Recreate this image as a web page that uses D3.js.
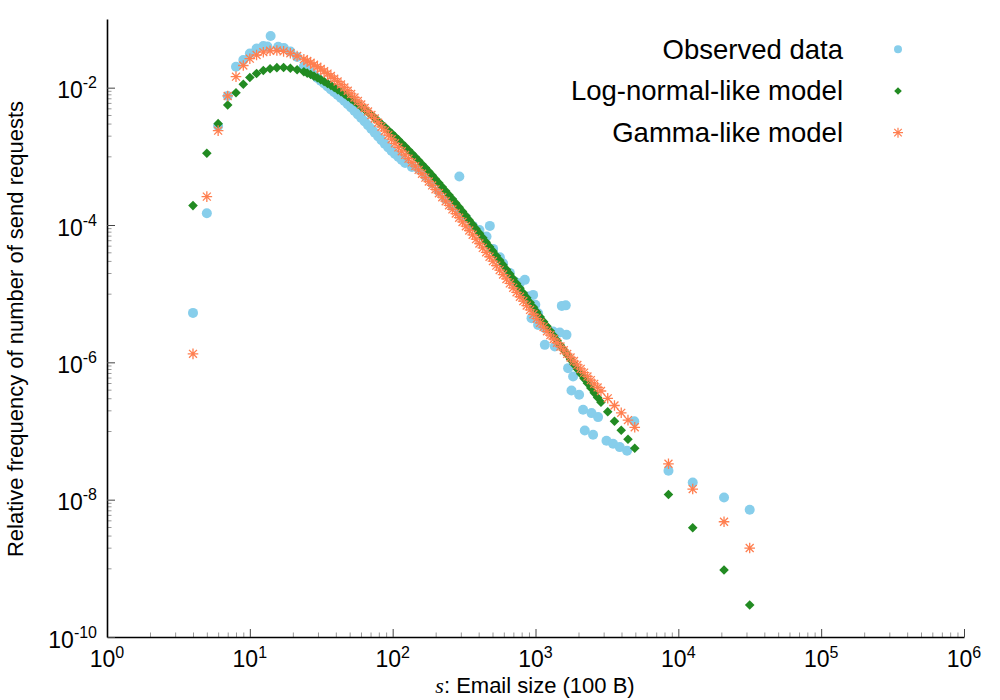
<!DOCTYPE html>
<html>
<head>
<meta charset="utf-8">
<script src="https://cdn.jsdelivr.net/npm/d3@7"></script>
<style>
  body { margin: 0; background: #fff; }
  svg { display: block; font-family: "Liberation Sans", Arial, Helvetica, sans-serif; }
</style>
</head>
<body>
<svg></svg>
<script>
// email size s (in units of 100 B) where the two models are evaluated
var modelSizes = [4, 5, 6, 7, 8, 9,
  10, 11.15, 12.43, 13.86, 15.46, 17.23, 19.22, 21.43,
  23.89, 25.22, 26.64, 28.13, 29.70, 31.36, 33.12, 34.97, 36.93, 38.99,
  41.17, 43.47, 45.91, 48.47, 51.19, 54.05, 57.07, 60.25, 63.64, 67.19,
  70.96, 74.92, 79.12, 83.54, 88.22, 93.14, 98.36, 103.8, 109.7, 115.8,
  122.3, 129.1, 136.4, 144.0, 152.0, 160.5, 169.5, 179.0, 189.0, 199.5,
  210.7, 222.5, 235.0, 248.1, 262.0, 276.6, 292.1, 308.4, 325.7, 343.9,
  363.2, 383.5, 405.0, 427.6, 451.5, 476.7, 503.5, 531.6, 561.4, 592.7,
  625.9, 660.8, 697.9, 736.8, 778.2, 821.6, 867.7, 916.1, 967.5, 1021,
  1079, 1139, 1203, 1270, 1341, 1416, 1495, 1578, 1667, 1760,
  1859, 1963, 2073, 2189, 2311, 2440, 2577, 2721,
  2873, 3204, 3572, 3983, 4441, 4952,
  8530, 12610, 20890, 31600];

var logNormalFreq = [1.916e-4, 1.110e-3, 2.992e-3, 5.60e-3, 8.43e-3, 1.124e-2,
  1.408e-2, 1.609e-2, 1.780e-2, 1.890e-2, 1.955e-2, 1.968e-2, 1.922e-2, 1.828e-2,
  1.704e-2, 1.629e-2, 1.556e-2, 1.473e-2, 1.394e-2, 1.310e-2, 1.231e-2, 1.153e-2, 1.080e-2, 1.007e-2,
  9.38e-3, 8.70e-3, 8.07e-3, 7.445e-3, 6.87e-3, 6.308e-3, 5.79e-3, 5.29e-3, 4.83e-3, 4.391e-3,
  3.99e-3, 3.615e-3, 3.276e-3, 2.957e-3, 2.670e-3, 2.402e-3, 2.162e-3, 1.939e-3, 1.739e-3, 1.554e-3,
  1.389e-3, 1.237e-3, 1.102e-3, 9.78e-4, 8.69e-4, 7.686e-4, 6.80e-4, 5.999e-4, 5.29e-4, 4.650e-4,
  4.09e-4, 3.579e-4, 3.135e-4, 2.737e-4, 2.390e-4, 2.080e-4, 1.809e-4, 1.570e-4, 1.361e-4, 1.176e-4,
  1.017e-4, 8.774e-5, 7.57e-5, 6.523e-5, 5.62e-5, 4.832e-5, 4.16e-5, 3.567e-5, 3.063e-5, 2.626e-5,
  2.251e-5, 1.926e-5, 1.648e-5, 1.407e-5, 1.203e-5, 1.025e-5, 8.75e-6, 7.445e-6, 6.34e-6, 5.388e-6,
  4.58e-6, 3.912e-6, 3.342e-6, 2.850e-6, 2.431e-6, 2.073e-6, 1.768e-6, 1.508e-6, 1.286e-6, 1.096e-6,
  9.35e-7, 7.975e-7, 6.80e-7, 5.800e-7, 4.95e-7, 4.219e-7, 3.597e-7, 3.068e-7,
  2.617e-7, 1.903e-7, 1.384e-7, 1.024e-7, 7.57e-8, 5.60e-8,
  1.19e-8, 3.90e-9, 9.45e-10, 2.92e-10];

var gammaFreq = [1.33e-6, 2.59e-4, 2.366e-3, 7.57e-3, 1.446e-2, 2.104e-2,
  2.643e-2, 2.992e-2, 3.286e-2, 3.444e-2, 3.479e-2, 3.376e-2, 3.167e-2, 2.893e-2,
  2.599e-2, 2.447e-2, 2.304e-2, 2.154e-2, 2.015e-2, 1.872e-2, 1.739e-2, 1.604e-2, 1.480e-2, 1.350e-2,
  1.231e-2, 1.113e-2, 1.007e-2, 9.028e-3, 8.10e-3, 7.200e-3, 6.40e-3, 5.694e-3, 5.064e-3, 4.503e-3,
  4.005e-3, 3.562e-3, 3.089e-3, 2.691e-3, 2.343e-3, 2.040e-3, 1.776e-3, 1.548e-3, 1.348e-3, 1.188e-3,
  1.048e-3, 9.243e-4, 8.150e-4, 7.189e-4, 6.342e-4, 5.572e-4, 4.897e-4, 4.298e-4, 3.771e-4, 3.308e-4,
  2.903e-4, 2.540e-4, 2.220e-4, 1.935e-4, 1.687e-4, 1.468e-4, 1.277e-4, 1.108e-4, 9.605e-5, 8.317e-5,
  7.201e-5, 6.222e-5, 5.379e-5, 4.641e-5, 4.005e-5, 3.450e-5, 2.973e-5, 2.560e-5, 2.206e-5, 1.900e-5,
  1.637e-5, 1.410e-5, 1.215e-5, 1.046e-5, 9.013e-6, 7.778e-6, 6.711e-6, 5.801e-6, 5.014e-6, 4.341e-6,
  3.759e-6, 3.259e-6, 2.826e-6, 2.487e-6, 2.187e-6, 1.927e-6, 1.699e-6, 1.501e-6, 1.327e-6, 1.178e-6,
  1.0445e-6, 9.165e-7, 8.042e-7, 7.080e-7, 6.234e-7, 5.507e-7, 4.865e-7, 4.312e-7,
  3.822e-7, 2.992e-7, 2.351e-7, 1.840e-7, 1.441e-7, 1.132e-7,
  3.33e-8, 1.427e-8, 4.77e-9, 1.975e-9];

// observed data
var observedSizes = [4, 5, 6, 7, 8, 9, 10, 11.15, 12.43, 13.28,
  13.98, 15.80, 17.32, 19.22, 21.43, 23.89, 26.64, 29.70, 33.12, 36.93,
  41.17, 45.91, 51.19, 57.07, 63.64, 70.96, 79.12, 88.22, 98.36, 109.7,
  122.3, 136.4, 152.0, 169.5, 189.0, 210.7, 235.0, 262.0, 293, 292.1,
  325.7, 363.2, 405.0, 454, 479, 505, 563, 593, 661, 716,
  776, 842, 888, 962, 997, 938, 1043, 1043, 1162, 1328,
  1479, 1648, 1528, 1629, 1162, 1365, 1691, 1833, 1786, 2020,
  2154, 2466, 2742, 2213, 2530, 3140, 3491, 3890, 4375, 4913,
  8530, 12610, 20890, 31600,
  25.22, 28.13, 31.36, 34.97, 38.99, 43.47, 48.47, 54.05, 60.25, 67.19,
  74.92, 83.54, 93.14, 103.8, 115.8];

var observedFreq = [5.25e-6, 1.485e-4, 2.77e-3, 7.57e-3, 2.02e-2, 2.53e-2, 3.146e-2, 3.72e-2, 4.05e-2, 3.98e-2,
  5.65e-2, 3.95e-2, 3.78e-2, 3.364e-2, 2.80e-2, 2.035e-2, 1.692e-2, 1.384e-2, 1.151e-2, 9.41e-3,
  7.83e-3, 6.40e-3, 5.15e-3, 4.07e-3, 3.221e-3, 2.505e-3, 1.949e-3, 1.515e-3, 1.198e-3, 9.80e-4,
  8.01e-4, 7.01e-4, 6.55e-4, 5.18e-4, 4.10e-4, 3.135e-4, 2.398e-4, 1.897e-4, 5.10e-4, 1.567e-4,
  1.268e-4, 9.70e-5, 8.48e-5, 6.78e-5, 9.70e-5, 4.49e-5, 3.38e-5, 2.78e-5, 2.008e-5, 1.50e-5,
  1.422e-5, 1.588e-5, 9.07e-6, 9.60e-6, 6.87e-6, 4.40e-6, 5.20e-6, 3.51e-6, 3.146e-6, 2.808e-6,
  2.716e-6, 2.514e-6, 6.64e-6, 6.76e-6, 1.797e-6, 1.698e-6, 8.23e-7, 6.21e-7, 3.89e-7, 3.364e-7,
  2.035e-7, 1.822e-7, 1.594e-7, 1.017e-7, 8.81e-8, 7.20e-8, 6.51e-8, 5.83e-8, 5.15e-8, 1.384e-7,
  2.634e-8, 1.780e-8, 1.076e-8, 7.13e-9,
  1.856e-2, 1.531e-2, 1.262e-2, 1.041e-2, 8.585e-3, 7.080e-3, 5.742e-3, 4.579e-3, 3.622e-3, 2.840e-3,
  2.210e-3, 1.718e-3, 1.348e-3, 1.084e-3, 8.862e-4];

var xTickExps = [0, 1, 2, 3, 4, 5, 6];
var yTickExps = [-2, -4, -6, -8, -10];
var legendLabels = ["Observed data", "Log-normal-like model", "Gamma-like model"];

var width = 1000, height = 700;
var margin = {top: 19, right: 36, bottom: 63, left: 107};

var svg = d3.select("svg")
  .attr("width", width)
  .attr("height", height);

var x = d3.scaleLog()
  .domain([1, 1e6])
  .range([margin.left, width - margin.right]);
var y = d3.scaleLog()
  .domain([1e-10, 1e-1])
  .range([height - margin.bottom, margin.top]);

// minor ticks: 2..9 per decade on x, k*10^m between the two-decade majors on y
var xMinor = [];
xTickExps.slice(0, -1).forEach(function(e) {
  for (var k = 2; k <= 9; k++) xMinor.push(k * Math.pow(10, e));
});
var yMinor = [];
[-3, -5, -7, -9].forEach(function(e) {
  for (var k = 1; k <= 9; k++) yMinor.push(k * Math.pow(10, e));
});

svg.append("g")
  .attr("transform", "translate(0," + y.range()[0] + ")")
  .call(d3.axisBottom(x).tickValues(xMinor).tickSize(-4.5).tickSizeOuter(0).tickFormat(""))
  .call(function(g) { g.select(".domain").remove(); })
  .selectAll("line").attr("stroke", "#999");

svg.append("g")
  .attr("transform", "translate(" + x.range()[0] + ",0)")
  .call(d3.axisLeft(y).tickValues(yMinor).tickSize(-4.5).tickSizeOuter(0).tickFormat(""))
  .call(function(g) { g.select(".domain").remove(); })
  .selectAll("line").attr("stroke", "#999");

var xAxis = svg.append("g")
  .attr("transform", "translate(0," + y.range()[0] + ")")
  .call(d3.axisBottom(x).tickValues(xTickExps.map(function(e) { return Math.pow(10, e); }))
    .tickSize(-8).tickSizeOuter(0).tickFormat(""));
xAxis.selectAll(".tick line").attr("stroke", "#444");
xAxis.select(".domain").attr("stroke", "#000").attr("stroke-width", 1.6);

var yAxis = svg.append("g")
  .attr("transform", "translate(" + x.range()[0] + ",0)")
  .call(d3.axisLeft(y).tickValues(yTickExps.map(function(e) { return Math.pow(10, e); }))
    .tickSize(-8).tickSizeOuter(0).tickFormat(""));
yAxis.selectAll(".tick line").attr("stroke", "#444");
yAxis.select(".domain").attr("stroke", "#000").attr("stroke-width", 1.6);

// tick labels as 10 with a superscript exponent
var xLab = svg.append("g").selectAll("text")
  .data(xTickExps).enter().append("text")
  .attr("x", function(d) { return x(Math.pow(10, d)); })
  .attr("y", y.range()[0] + 30)
  .attr("text-anchor", "middle")
  .attr("font-size", 23)
  .text("10");
xLab.append("tspan").attr("dy", -9).attr("font-size", 16).text(function(d) { return d; });

var yLab = svg.append("g").selectAll("text")
  .data(yTickExps).enter().append("text")
  .attr("x", 97)
  .attr("y", function(d) { return y(Math.pow(10, d)) + 10.5; })
  .attr("text-anchor", "end")
  .attr("font-size", 23)
  .text("10");
yLab.append("tspan").attr("dy", -10).attr("font-size", 16).text(function(d) { return d; });

// axis titles
var xTitle = svg.append("text")
  .attr("x", 535)
  .attr("y", 693)
  .attr("text-anchor", "middle")
  .attr("font-size", 22);
xTitle.append("tspan")
  .attr("font-family", "'Liberation Serif', 'DejaVu Serif', serif")
  .attr("font-style", "italic")
  .text("s");
xTitle.append("tspan").text(": Email size (100 B)");

svg.append("text")
  .attr("transform", "translate(23,329) rotate(-90)")
  .attr("text-anchor", "middle")
  .attr("font-size", 22)
  .text("Relative frequency of number of send requests");

// marker shapes
function diamond(r) {
  return "M0," + (-r) + "L" + r + ",0L0," + r + "L" + (-r) + ",0Z";
}
function asterisk(r) {
  var a = r * 0.75;
  return "M" + (-r) + ",0H" + r + "M0," + (-r) + "V" + r +
    "M" + (-a) + "," + (-a) + "L" + a + "," + a +
    "M" + (-a) + "," + a + "L" + a + "," + (-a);
}

var colors = ["#87CEEB", "#228B22", "#FF7F50"];

var observed = observedSizes.map(function(s, i) { return {s: s, v: observedFreq[i]}; });
var logNormal = modelSizes.map(function(s, i) { return {s: s, v: logNormalFreq[i]}; });
var gamma = modelSizes.map(function(s, i) { return {s: s, v: gammaFreq[i]}; });

svg.append("g").selectAll("circle")
  .data(observed).enter().append("circle")
  .attr("cx", function(d) { return x(d.s); })
  .attr("cy", function(d) { return y(d.v); })
  .attr("r", 5)
  .attr("fill", colors[0]);

svg.append("g").selectAll("path")
  .data(logNormal).enter().append("path")
  .attr("d", diamond(4.8))
  .attr("transform", function(d) { return "translate(" + x(d.s) + "," + y(d.v) + ")"; })
  .attr("fill", colors[1]);

svg.append("g").selectAll("path")
  .data(gamma).enter().append("path")
  .attr("d", asterisk(5.3))
  .attr("transform", function(d) { return "translate(" + x(d.s) + "," + y(d.v) + ")"; })
  .attr("fill", "none")
  .attr("stroke", colors[2])
  .attr("stroke-width", 1.3);

// legend
var legend = svg.append("g").selectAll("g")
  .data(legendLabels).enter().append("g")
  .attr("transform", function(d, i) { return "translate(0," + (59 + i * 41.3) + ")"; });

legend.append("text")
  .attr("x", 843)
  .attr("text-anchor", "end")
  .attr("font-size", 27.5)
  .text(function(d) { return d; });

legend.each(function(d, i) {
  var g = d3.select(this);
  if (i === 0) {
    g.append("circle").attr("cx", 898).attr("cy", -9.7).attr("r", 4).attr("fill", colors[0]);
  } else if (i === 1) {
    g.append("path").attr("d", diamond(3.8))
      .attr("transform", "translate(898,-9.3)").attr("fill", colors[1]);
  } else {
    g.append("path").attr("d", asterisk(5))
      .attr("transform", "translate(898,-8.9)")
      .attr("fill", "none").attr("stroke", colors[2]).attr("stroke-width", 1.2);
  }
});
</script>
</body>
</html>
